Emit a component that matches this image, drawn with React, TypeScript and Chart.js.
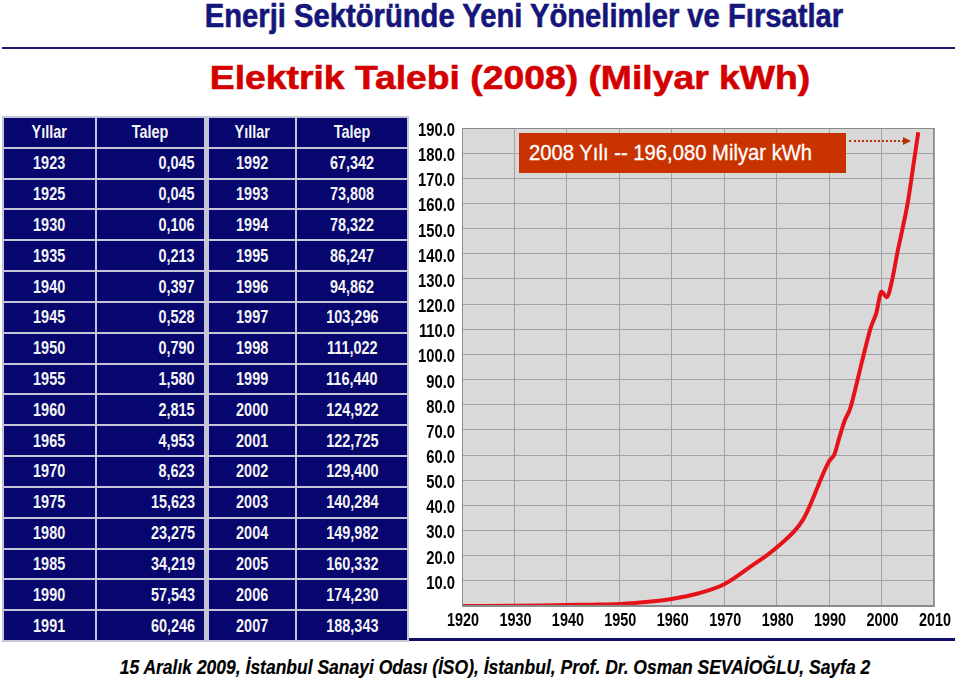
import React, { useEffect, useRef } from "react";
import { Chart, registerables } from "chart.js";

Chart.register(...registerables);

// ---- data ----
const leftYears = [1923, 1925, 1930, 1935, 1940, 1945, 1950, 1955, 1960, 1965, 1970, 1975, 1980, 1985, 1990, 1991];
const leftDemand = [0.045, 0.045, 0.106, 0.213, 0.397, 0.528, 0.79, 1.58, 2.815, 4.953, 8.623, 15.623, 23.275, 34.219, 57.543, 60.246];
const rightYears = [1992, 1993, 1994, 1995, 1996, 1997, 1998, 1999, 2000, 2001, 2002, 2003, 2004, 2005, 2006, 2007];
const rightDemand = [67.342, 73.808, 78.322, 86.247, 94.862, 103.296, 111.022, 116.44, 124.922, 122.725, 129.4, 140.284, 149.982, 160.332, 174.23, 188.343];
// line in the picture starts at the left edge (estimated value)
const leadInYears = [1920];
const leadInDemand = [0.04];

const xTickMin = 1920;
const xTickMax = 2010;
const xTickStep = 10;
const yTickMax = 190;
const yTickStep = 10;

const titleText = "Enerji Sektöründe Yeni Yönelimler ve Fırsatlar";
const subtitleText = "Elektrik Talebi (2008) (Milyar kWh)";
const annotationText = "2008 Yılı -- 196,080 Milyar kWh";
const footerText = "15 Aralık 2009, İstanbul Sanayi Odası (İSO), İstanbul, Prof. Dr. Osman SEVAİOĞLU,  Sayfa 2";
const headerYear = "Yıllar";
const headerDemand = "Talep";

const SANS = "'Liberation Sans', Arial, sans-serif";
const NAVY = "#06066e";
const GRIDLINE = "#c4c6d6";

const fmt = (v: number) => v.toFixed(3).replace(".", ",");

const bgPlugin = {
  id: "plotBg",
  beforeDraw(chart: any) {
    const { ctx, chartArea } = chart;
    ctx.save();
    ctx.fillStyle = "#d9d9d9";
    ctx.fillRect(chartArea.left, chartArea.top, chartArea.right - chartArea.left, chartArea.bottom - chartArea.top);
    ctx.restore();
  },
  afterDraw(chart: any) {
    const { ctx, chartArea, scales } = chart;
    ctx.save();
    ctx.strokeStyle = "#8c8c8c";
    ctx.lineWidth = 1;
    ctx.strokeRect(chartArea.left + 0.5, chartArea.top + 0.5, chartArea.right - chartArea.left - 1, chartArea.bottom - chartArea.top - 1);
    // condensed tick labels
    ctx.fillStyle = "#000";
    ctx.font = `bold 18px ${SANS}`;
    ctx.textBaseline = "middle";
    ctx.textAlign = "right";
    scales.y.ticks.forEach((t: any) => {
      if (!t.label) return;
      ctx.save();
      ctx.translate(chartArea.left - 7, scales.y.getPixelForValue(t.value) + 3);
      ctx.scale(0.82, 1);
      ctx.fillText(t.label, 0, 0);
      ctx.restore();
    });
    ctx.textAlign = "center";
    scales.x.ticks.forEach((t: any) => {
      ctx.save();
      ctx.translate(scales.x.getPixelForValue(t.value) + 1, chartArea.bottom + 15);
      ctx.scale(0.8, 1);
      ctx.fillText(t.label, 0, 0);
      ctx.restore();
    });
    ctx.restore();
  },
};

function LineChart() {
  const ref = useRef<HTMLCanvasElement | null>(null);
  useEffect(() => {
    if (!ref.current) return;
    const xs = [...leadInYears, ...leftYears, ...rightYears];
    const ys = [...leadInDemand, ...leftDemand, ...rightDemand];
    const points = xs.map((x, i) => ({ x, y: ys[i] }));
    const chart = new Chart(ref.current, {
      type: "line",
      data: {
        datasets: [
          {
            data: points,
            borderColor: "#e6121a",
            borderWidth: 4,
            pointRadius: 0,
            cubicInterpolationMode: "monotone",
            fill: false,
          },
        ],
      },
      options: {
        animation: false,
        responsive: false,
        layout: { padding: { top: 18, right: 26, left: 0, bottom: 0 } },
        plugins: { legend: { display: false }, tooltip: { enabled: false } },
        scales: {
          x: {
            type: "linear",
            min: xTickMin,
            max: xTickMax,
            afterFit(scale: any) {
              scale.height = 34;
            },
            ticks: {
              display: false,
              stepSize: xTickStep,
              callback: (v: any) => String(v),
            },
            grid: { color: "#a2a2a2", lineWidth: 1, drawTicks: false },
            border: { display: true, color: "#8c8c8c" },
          },
          y: {
            min: 0,
            max: yTickMax,
            afterFit(scale: any) {
              scale.width = 57;
            },
            ticks: {
              display: false,
              stepSize: yTickStep,
              callback: (v: any) => (Number(v) === 0 ? "" : Number(v).toFixed(1)),
            },
            grid: { color: "#a2a2a2", lineWidth: 1, drawTicks: false },
            border: { display: true, color: "#8c8c8c" },
          },
        },
      } as any,
      plugins: [bgPlugin],
    });
    return () => chart.destroy();
  }, []);
  return <canvas ref={ref} width={555} height={530} style={{ position: "absolute", left: 405, top: 110 }} />;
}

function Squeezed({ text, scale, align }: { text: string | number; scale: number; align: "center" | "right" }) {
  return (
    <span
      style={{
        display: "inline-block",
        whiteSpace: "nowrap",
        transform: `scaleX(${scale})`,
        transformOrigin: align === "right" ? "right center" : "center center",
      }}
    >
      {text}
    </span>
  );
}

function DataTable() {
  // column edges (px, page coords)
  const cols: [number, number][] = [
    [3, 96],
    [96, 205],
    [208, 296],
    [296, 408],
  ];
  const top = 117;
  const rows = leftYears.length + 1;
  const rowH = (641 - top) / rows;
  const aligns: ("center" | "right")[] = ["center", "right", "center", "center"];
  const rowsData: (string | number)[][] = [
    [headerYear, headerDemand, headerYear, headerDemand],
    ...leftYears.map((y, i) => [y, fmt(leftDemand[i]), rightYears[i], fmt(rightDemand[i])]),
  ];
  const cells: React.ReactNode[] = [];
  rowsData.forEach((r, ri) => {
    r.forEach((val, ci) => {
      const [x0, x1] = cols[ci];
      const align = ri === 0 ? "center" : aligns[ci];
      cells.push(
        <div
          key={`${ri}-${ci}`}
          style={{
            position: "absolute",
            left: x0 + 1,
            top: top + ri * rowH + 1,
            width: x1 - x0 - 2,
            height: rowH - 2,
            background: NAVY,
            color: "#f4f4f4",
            fontFamily: SANS,
            fontWeight: "bold",
            fontSize: 19,
            display: "flex",
            alignItems: "center",
            justifyContent: align === "right" ? "flex-end" : "center",
            paddingRight: align === "right" ? 9 : 0,
            boxSizing: "border-box",
          }}
        >
          <Squeezed text={val} scale={0.76} align={align} />
        </div>
      );
    });
  });
  return (
    <>
      <div style={{ position: "absolute", left: 2, top: top - 1, width: 407, height: 641 - top + 2, background: GRIDLINE }} />
      {cells}
    </>
  );
}

function CenterText({
  text,
  cx,
  top,
  size,
  scale,
  color,
  family,
  italic,
  stroke,
}: {
  text: string;
  cx: number;
  top: number;
  size: number;
  scale: number;
  color: string;
  family: string;
  italic?: boolean;
  stroke?: number;
}) {
  return (
    <div
      style={{
        position: "absolute",
        left: cx,
        top,
        transform: `translateX(-50%) scaleX(${scale})`,
        fontFamily: family,
        fontWeight: "bold",
        fontStyle: italic ? "italic" : "normal",
        fontSize: size,
        lineHeight: 1.15,
        color,
        whiteSpace: "nowrap",
        WebkitTextStroke: stroke ? `${stroke}px ${color}` : undefined,
      }}
    >
      {text}
    </div>
  );
}

export default function App() {
  return (
    <div style={{ position: "absolute", left: 0, top: 0, width: 960, height: 679, background: "#fff", overflow: "hidden" }}>
      <CenterText text={titleText} cx={523.5} top={-3} size={33} scale={0.885} color="#16167a" family={SANS} stroke={0.6} />
      <div style={{ position: "absolute", left: 2, top: 47, width: 953, height: 2, background: "#1a1a6a" }} />
      <CenterText text={subtitleText} cx={510} top={59} size={33} scale={1.13} color="#d40000" family={SANS} stroke={0.6} />
      <div style={{ position: "absolute", left: 3, top: 638, width: 952, height: 3, background: "#10106a" }} />
      <DataTable />
      <LineChart />
      <div
        style={{
          position: "absolute",
          left: 519,
          top: 133,
          width: 327,
          height: 40,
          background: "#c93300",
          boxSizing: "border-box",
        }}
      />
      <div
        style={{
          position: "absolute",
          left: 529,
          top: 133,
          height: 40,
          lineHeight: "40px",
          color: "#fff",
          fontFamily: SANS,
          fontSize: 22,
          transform: "scaleX(0.92)",
          transformOrigin: "left center",
          whiteSpace: "nowrap",
          WebkitTextStroke: "0.3px #fff",
        }}
      >
        {annotationText}
      </div>
      <div style={{ position: "absolute", left: 849, top: 140, width: 55, height: 0, borderTop: "2px dotted #b83000" }} />
      <div
        style={{
          position: "absolute",
          left: 903,
          top: 137,
          width: 0,
          height: 0,
          borderTop: "4px solid transparent",
          borderBottom: "4px solid transparent",
          borderLeft: "8px solid #b83000",
        }}
      />
      <CenterText text={footerText} cx={495} top={655} size={21} scale={0.833} color="#000" family={SANS} italic stroke={0.2} />
    </div>
  );
}
